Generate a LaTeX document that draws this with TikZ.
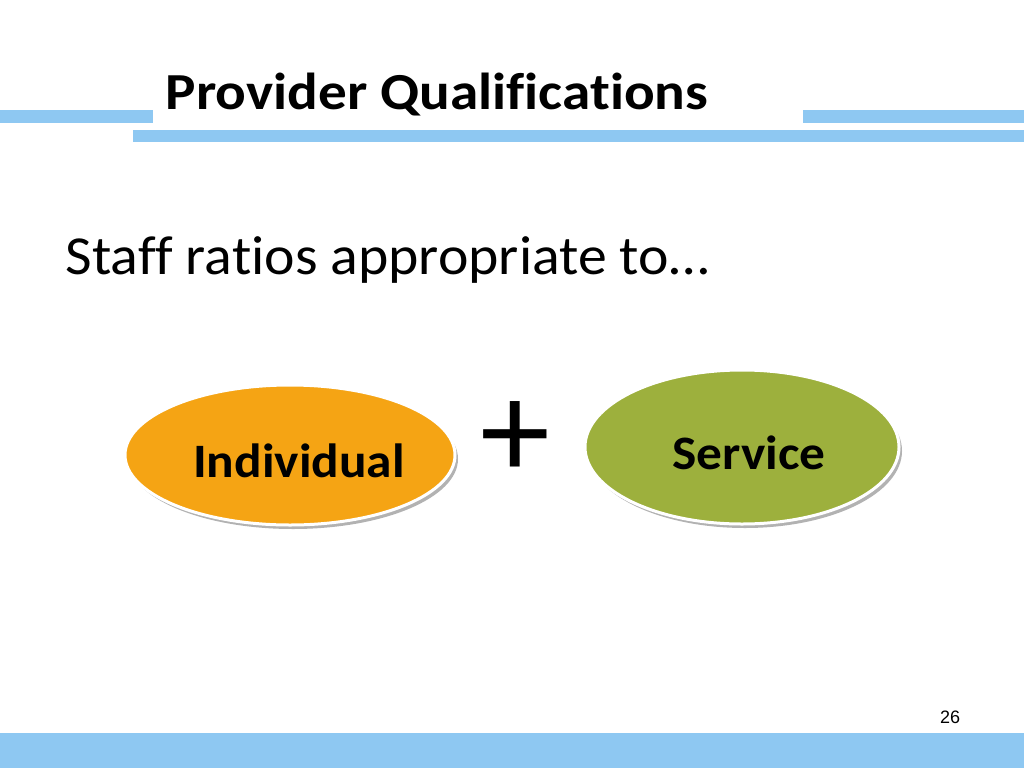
\documentclass[tikz,border=0pt]{standalone}
\usepackage{fontspec}
\setmainfont[Ligatures=NoCommon]{Carlito}
\newfontfamily\arialf{Liberation Sans}
\definecolor{barblue}{HTML}{8EC8F2}
\definecolor{orangef}{HTML}{F5A414}
\definecolor{greenf}{HTML}{9DB03D}
\begin{document}
\begin{tikzpicture}[x=1pt,y=-1pt,
  bar/.style={fill=barblue,draw=none}]
\useasboundingbox (0,0) rectangle (1024,768);
\fill[white] (0,0) rectangle (1024,768);
\fill[bar] (0,110) rectangle (153,123);
\fill[bar] (803,110) rectangle (1024,123);
\fill[bar] (133,130) rectangle (1024,142);
\fill[bar] (0,733) rectangle (1024,768);
\node[anchor=base west,xscale=1.1,font=\fontsize{52}{58}\selectfont\bfseries] (title) at (162,109) {Provider Qualifications};
\node[anchor=base west,xscale=1.05,font=\fontsize{55}{62}\selectfont] (sub) at (62,274) {Staff ratios appropriate to…};
\fill[black!30] (293,459) ellipse (165 and 70);
\fill[orangef,draw=white,line width=3pt] (290,455) ellipse (165 and 70);
\node[xscale=1.07,font=\fontsize{48}{54}\selectfont\bfseries] (ind) at (299,461) {Individual};
\fill[black!30] (745,451) ellipse (157 and 77);
\fill[greenf,draw=white,line width=3pt] (742,447) ellipse (157 and 77);
\node[xscale=1.07,font=\fontsize{48}{54}\selectfont\bfseries] (svc) at (749,453) {Service};
\node[font=\fontsize{140}{140}\selectfont] (plus) at (515,440) {+};
\node[font=\arialf\fontsize{18}{20}\selectfont] (pg) at (950,717) {26};
\end{tikzpicture}
\end{document}
